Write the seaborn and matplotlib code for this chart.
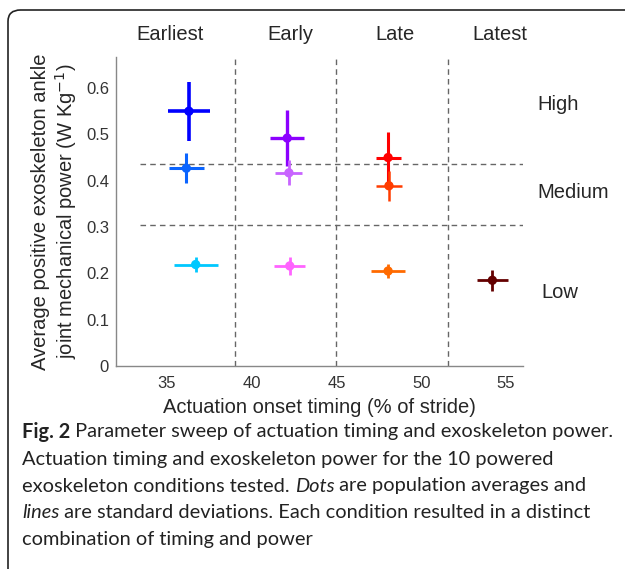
import matplotlib
matplotlib.use("Agg")
import matplotlib.pyplot as plt
import seaborn as sns
import pandas as pd
from matplotlib.patches import FancyBboxPatch

# condition data
conditions = ["Earliest-High", "Earliest-Medium", "Earliest-Low",
              "Early-High", "Early-Medium", "Early-Low",
              "Late-High", "Late-Medium", "Late-Low", "Latest-Low"]
timing = [36.3, 36.15, 36.7, 42.1, 42.2, 42.25, 48.05, 48.1, 48.05, 54.2]
timing_sd = [1.25, 1.05, 1.3, 1.0, 0.8, 0.92, 0.74, 0.75, 1.0, 0.9]
power = [0.550, 0.427, 0.219, 0.492, 0.417, 0.216, 0.450, 0.389, 0.205, 0.185]
power_sd = [0.064, 0.033, 0.016, 0.061, 0.027, 0.019, 0.055, 0.033, 0.016, 0.023]
colors = ["#0000ff", "#0a64ff", "#00c8ff", "#8c00ff", "#c864ff", "#ff64ff",
          "#ff0000", "#ff3c00", "#ff6a00", "#640000"]
line_w = [2.6, 2.2, 2.0, 2.4, 2.0, 2.0, 2.2, 1.8, 2.0, 2.0]

timing_bounds = [39, 45, 51.6]
power_bounds = [0.437, 0.305]
timing_names = ["Earliest", "Early", "Late", "Latest"]
power_names = ["High", "Medium", "Low"]

df = pd.DataFrame({"cond": conditions, "timing": timing, "tsd": timing_sd,
                   "power": power, "psd": power_sd})

sns.set_style("white")
plt.rcParams["font.family"] = ["Liberation Sans", "DejaVu Sans"]

fig = plt.figure(figsize=(6.25, 5.69), dpi=100)
ax = fig.add_axes([0.1856, 0.3568, 0.651, 0.543])

for i, row in df.iterrows():
    ax.errorbar(row.timing, row.power, xerr=row.tsd, yerr=row.psd, fmt="none",
                ecolor=colors[i], elinewidth=line_w[i], capsize=0, zorder=3)
sns.scatterplot(data=df, x="timing", y="power", hue="cond", palette=colors,
                s=45, edgecolor="none", legend=False, ax=ax, zorder=4)

for xb in timing_bounds:
    ax.axvline(xb, color="#666666", lw=1, ls=(0, (4, 3)), zorder=1)
for yb in power_bounds:
    ax.plot([33.4, 56], [yb, yb], color="#666666", lw=1, ls=(0, (4, 3)), zorder=1)

ax.set_xlim(32, 56)
ax.set_ylim(0, 0.667)
ax.set_xticks([35, 40, 45, 50, 55])
ax.set_yticks([0, 0.1, 0.2, 0.3, 0.4, 0.5, 0.6])
ax.set_yticklabels(["0", "0.1", "0.2", "0.3", "0.4", "0.5", "0.6"])
ax.tick_params(direction="in", length=4, width=0.8, colors="#777777",
               labelcolor="#333333", labelsize=12)
ax.tick_params(axis="y", pad=5)
ax.tick_params(axis="x", pad=7)
sns.despine(ax=ax)
for s in ["left", "bottom"]:
    ax.spines[s].set_color("#888888")
    ax.spines[s].set_linewidth(1)

ax.set_xlabel("Actuation onset timing (% of stride)", fontsize=14.5, labelpad=5)
ax.set_ylabel("Average positive exoskeleton ankle\njoint mechanical power (W Kg$^{-1}$)",
              fontsize=14.5, labelpad=5, linespacing=1.15)

# category labels
for name, xc in zip(timing_names, [170, 290, 395, 500]):
    fig.text(xc / 625, 1 - 35 / 569, name, ha="center", va="center", fontsize=14.5)
for name, (xc, yc) in zip(power_names, [(537, 105), (537, 192), (541, 292)]):
    fig.text(xc / 625, 1 - yc / 569, name, ha="left", va="center", fontsize=14.5)

# rounded frame around the figure panel
frame = FancyBboxPatch((8 / 625, -0.1), 1.1, 1 - 10 / 569 + 0.1,
                       boxstyle="round,pad=0,rounding_size=0.02",
                       transform=fig.transFigure, fill=False,
                       ec="#222222", lw=1.2, clip_on=False)
fig.patches.append(frame)

# caption with mixed bold / italic pieces
cap_font = ["Lato", "DejaVu Sans"]
cap_size = 14.4
caption = [
    [("Fig. 2", "bold", "normal"), (" Parameter sweep of actuation timing and exoskeleton power.", "normal", "normal")],
    [("Actuation timing and exoskeleton power for the 10 powered", "normal", "normal")],
    [("exoskeleton conditions tested. ", "normal", "normal"), ("Dots", "normal", "italic"),
     (" are population averages and", "normal", "normal")],
    [("lines", "normal", "italic"), (" are standard deviations. Each condition resulted in a distinct", "normal", "normal")],
    [("combination of timing and power", "normal", "normal")],
]
fig.canvas.draw()
renderer = fig.canvas.get_renderer()
for k, line in enumerate(caption):
    x = 22
    y = 1 - (432 + k * 27) / 569
    for txt, weight, style in line:
        t = fig.text(x / 625, y, txt, ha="left", va="center", fontsize=cap_size,
                     family=cap_font, weight=weight, style=style, color="#222222")
        bb = t.get_window_extent(renderer=renderer)
        x += bb.width

fig.savefig("out.png", dpi=100)
